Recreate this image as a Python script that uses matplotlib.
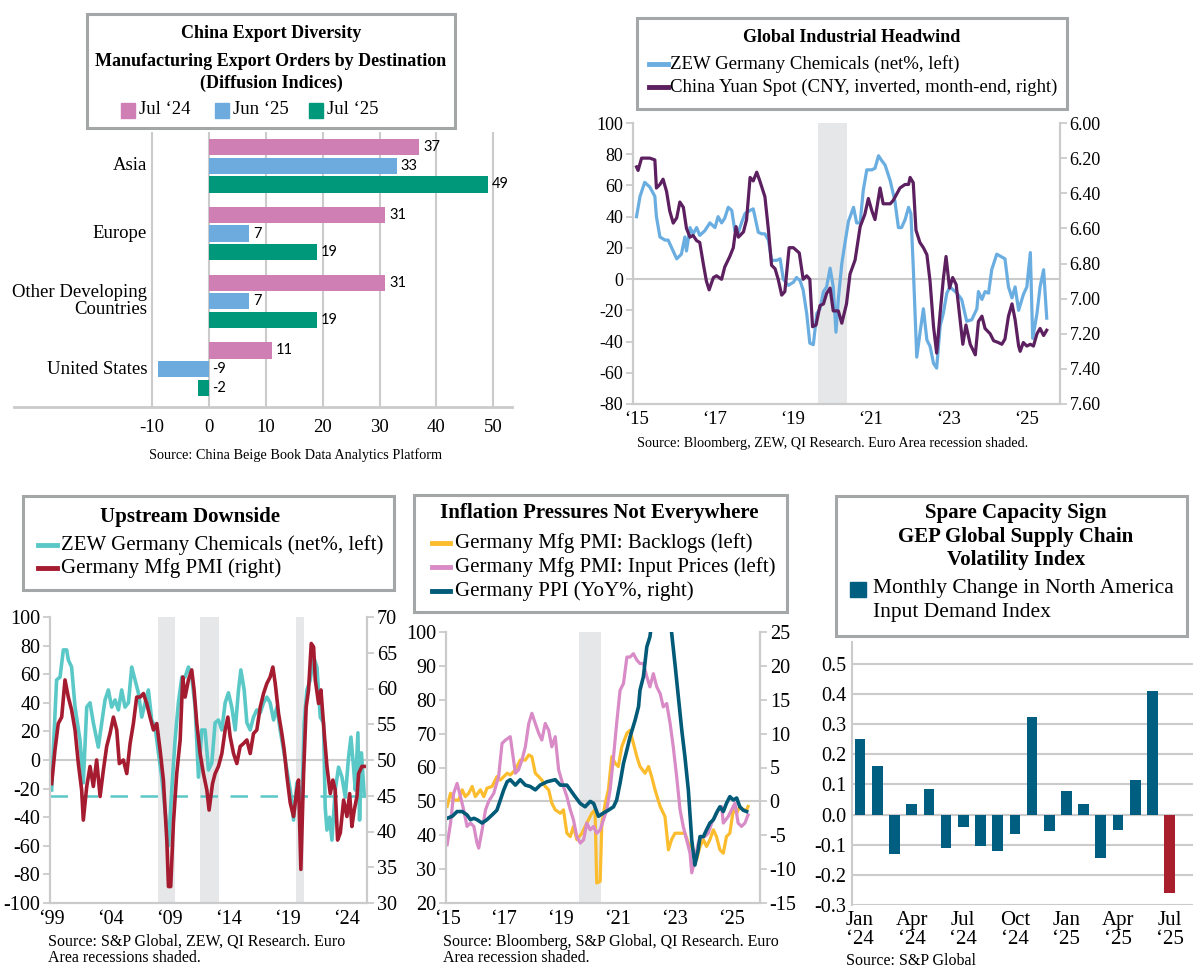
import matplotlib
matplotlib.use('Agg')
import matplotlib.pyplot as plt
from matplotlib.patches import Rectangle
from matplotlib.lines import Line2D
import numpy as np

# ---- data ----
regions = ['Asia', 'Europe', 'Other Developing\nCountries', 'United States']
orders_jul24 = [37, 31, 31, 11]
orders_jun25 = [33, 7, 7, -9]
orders_jul25 = [49, 19, 19, -2]

# ZEW Germany chemicals (net%), 2015-2025 (decimal year, value)
zew_recent = [
    (2015.00, 40), (2015.09, 53), (2015.21, 62), (2015.34, 59), (2015.47, 53), (2015.51, 40),
    (2015.60, 27), (2015.73, 25), (2015.81, 25), (2016.03, 13), (2016.15, 16), (2016.24, 27),
    (2016.28, 18), (2016.37, 33), (2016.45, 29), (2016.54, 33), (2016.62, 28), (2016.75, 31),
    (2016.88, 36), (2017.01, 33), (2017.09, 40), (2017.18, 36), (2017.26, 39), (2017.35, 46),
    (2017.44, 44), (2017.52, 31), (2017.61, 30), (2017.69, 36), (2017.78, 42), (2017.91, 44),
    (2017.99, 45), (2018.12, 30), (2018.21, 29), (2018.29, 29), (2018.38, 25), (2018.46, 12),
    (2018.59, 12), (2018.68, 13), (2018.76, 0), (2018.89, -4), (2019.02, -2), (2019.10, 1),
    (2019.19, -1), (2019.27, -7), (2019.36, -22), (2019.44, -41), (2019.53, -42), (2019.62, -22),
    (2019.70, -19), (2019.79, -8), (2019.87, -5), (2019.96, 7), (2020.04, -5), (2020.11, -34),
    (2020.17, -13), (2020.26, 10), (2020.34, 23), (2020.43, 37), (2020.56, 46), (2020.64, 36),
    (2020.73, 36), (2020.81, 57), (2020.90, 70), (2021.03, 70), (2021.11, 71), (2021.20, 79),
    (2021.28, 76), (2021.37, 73), (2021.50, 63), (2021.62, 50), (2021.71, 33), (2021.79, 33),
    (2021.88, 38), (2021.97, 46), (2022.03, 42), (2022.09, 8), (2022.18, -50), (2022.26, -35),
    (2022.35, -19), (2022.44, -39), (2022.52, -43), (2022.61, -54), (2022.69, -57), (2022.78, -30),
    (2022.86, -22), (2022.95, -9), (2023.03, -5), (2023.12, -7), (2023.21, -9), (2023.33, -13),
    (2023.46, -27), (2023.59, -26), (2023.72, -19), (2023.76, -8), (2023.85, -13), (2023.93, -8),
    (2024.02, -9), (2024.10, 6), (2024.23, 16), (2024.44, 13), (2024.53, -5), (2024.62, -12),
    (2024.70, -5), (2024.79, -20), (2024.91, -10), (2025.00, -5), (2025.09, 17), (2025.15, -38),
    (2025.26, -22), (2025.34, -5), (2025.43, 6), (2025.51, -25),
]

# CNY spot, month-end
cny = [
    (2015.00, 6.25), (2015.04, 6.27), (2015.13, 6.20), (2015.26, 6.20), (2015.34, 6.20), (2015.47, 6.21),
    (2015.51, 6.37), (2015.60, 6.35), (2015.68, 6.32), (2015.77, 6.39), (2015.85, 6.50), (2015.94, 6.57),
    (2016.03, 6.54), (2016.11, 6.45), (2016.20, 6.48), (2016.28, 6.60), (2016.37, 6.65), (2016.45, 6.64),
    (2016.54, 6.67), (2016.62, 6.68), (2016.71, 6.80), (2016.79, 6.90), (2016.86, 6.95), (2016.97, 6.88),
    (2017.05, 6.87), (2017.18, 6.89), (2017.26, 6.82), (2017.39, 6.76), (2017.48, 6.71), (2017.55, 6.59),
    (2017.61, 6.65), (2017.74, 6.62), (2017.82, 6.55), (2017.91, 6.31), (2017.99, 6.33), (2018.08, 6.28),
    (2018.16, 6.33), (2018.29, 6.42), (2018.38, 6.61), (2018.46, 6.81), (2018.55, 6.83), (2018.63, 6.89),
    (2018.72, 6.98), (2018.80, 6.96), (2018.91, 6.71), (2019.02, 6.71), (2019.17, 6.74), (2019.27, 6.89),
    (2019.36, 6.87), (2019.44, 6.89), (2019.51, 7.16), (2019.60, 7.15), (2019.70, 7.04), (2019.79, 7.03),
    (2019.87, 6.97), (2019.96, 6.94), (2020.04, 7.07), (2020.17, 7.07), (2020.26, 7.14), (2020.38, 7.03),
    (2020.47, 6.86), (2020.60, 6.78), (2020.73, 6.59), (2020.85, 6.52), (2020.94, 6.43), (2021.03, 6.50),
    (2021.11, 6.55), (2021.24, 6.37), (2021.32, 6.46), (2021.50, 6.46), (2021.58, 6.44), (2021.75, 6.37),
    (2021.88, 6.35), (2021.97, 6.35), (2022.01, 6.31), (2022.09, 6.34), (2022.16, 6.61), (2022.26, 6.68),
    (2022.35, 6.71), (2022.44, 6.75), (2022.52, 6.90), (2022.61, 7.16), (2022.69, 7.31), (2022.78, 7.08),
    (2022.86, 6.89), (2022.93, 6.76), (2023.02, 6.94), (2023.10, 6.88), (2023.19, 6.92), (2023.29, 7.12),
    (2023.36, 7.26), (2023.44, 7.15), (2023.55, 7.26), (2023.68, 7.32), (2023.76, 7.13), (2023.85, 7.10),
    (2023.93, 7.17), (2024.06, 7.20), (2024.15, 7.24), (2024.27, 7.25), (2024.36, 7.26), (2024.44, 7.23),
    (2024.53, 7.10), (2024.62, 7.03), (2024.70, 7.12), (2024.79, 7.27), (2024.83, 7.30), (2024.91, 7.25),
    (2025.00, 7.27), (2025.09, 7.26), (2025.17, 7.27), (2025.26, 7.20), (2025.34, 7.17), (2025.43, 7.21),
    (2025.51, 7.18),
]

# ZEW Germany chemicals, 1999-2025
zew_long = [
    (1999.00, -21), (1999.14, 7), (1999.42, 56), (1999.71, 58), (1999.99, 77), (2000.27, 77),
    (2000.41, 70), (2000.69, 65), (2000.98, 37), (2001.40, 14), (2001.68, -16), (2001.97, 37),
    (2002.25, 40), (2002.53, 26), (2002.95, 9), (2003.24, 26), (2003.52, 42), (2003.80, 49),
    (2004.08, 37), (2004.37, 42), (2004.65, 35), (2004.93, 49), (2005.21, 37), (2005.50, 40),
    (2005.78, 65), (2006.06, 56), (2006.34, 47), (2006.63, 30), (2006.91, 40), (2007.19, 49),
    (2007.47, 28), (2007.76, 23), (2008.04, 5), (2008.32, -12), (2008.60, -35), (2008.89, -60),
    (2009.17, -21), (2009.45, 14), (2009.73, 40), (2010.02, 58), (2010.30, 58), (2010.58, 65),
    (2010.86, 58), (2011.15, 37), (2011.43, -12), (2011.71, 21), (2011.99, 21), (2012.28, -7),
    (2012.56, -2), (2012.84, 26), (2013.12, 28), (2013.41, 21), (2013.69, 40), (2013.97, 47),
    (2014.25, 37), (2014.54, 21), (2014.82, 49), (2015.02, 63), (2015.30, 49), (2015.53, 26),
    (2015.81, 21), (2016.09, 30), (2016.37, 35), (2016.66, 33), (2016.94, 40), (2017.22, 44),
    (2017.50, 40), (2017.79, 28), (2018.07, 37), (2018.35, 21), (2018.63, 7), (2018.92, -7),
    (2019.20, -21), (2019.48, -42), (2019.76, -16), (2020.05, -21), (2020.19, -30), (2020.38, 26),
    (2020.61, 49), (2020.89, 56), (2021.18, 72), (2021.46, 65), (2021.74, 30), (2022.02, 26),
    (2022.16, -33), (2022.31, -49), (2022.53, -40), (2022.73, -56), (2023.01, -21), (2023.29, -5),
    (2023.58, -12), (2023.86, -26), (2024.14, 2), (2024.34, 16), (2024.56, -5), (2024.71, -21),
    (2024.93, 19), (2025.07, -42), (2025.23, 5), (2025.47, -25),
]

# Germany manufacturing PMI
pmi = [
    (1999.00, 46.7), (1999.28, 51.4), (1999.56, 55.1), (1999.85, 56.0), (2000.13, 61.2), (2000.41, 58.8),
    (2000.69, 57.0), (2000.98, 54.2), (2001.26, 49.5), (2001.54, 45.8), (2001.68, 41.6), (2001.97, 46.3),
    (2002.25, 49.1), (2002.53, 46.3), (2002.81, 50.0), (2003.10, 44.9), (2003.38, 48.6), (2003.66, 51.9),
    (2003.94, 53.7), (2004.23, 56.0), (2004.51, 54.2), (2004.73, 49.5), (2005.07, 50.0), (2005.36, 48.1),
    (2005.64, 52.3), (2005.92, 55.1), (2006.20, 58.8), (2006.49, 58.8), (2006.77, 59.3), (2007.05, 57.9),
    (2007.33, 56.0), (2007.62, 54.2), (2007.90, 55.1), (2008.18, 51.4), (2008.46, 47.2), (2008.75, 38.8),
    (2008.89, 32.3), (2009.08, 32.3), (2009.31, 41.2), (2009.59, 48.1), (2009.88, 52.8), (2010.10, 61.6),
    (2010.30, 58.8), (2010.58, 61.2), (2010.86, 62.6), (2011.06, 59.8), (2011.29, 55.1), (2011.57, 50.9),
    (2011.85, 48.1), (2012.14, 45.8), (2012.33, 43.0), (2012.62, 46.7), (2012.84, 48.1), (2013.12, 49.1),
    (2013.41, 50.9), (2013.69, 54.2), (2013.92, 56.0), (2014.11, 53.3), (2014.40, 50.9), (2014.68, 49.5),
    (2014.96, 51.9), (2015.24, 52.3), (2015.53, 52.8), (2015.81, 50.9), (2016.09, 53.7), (2016.37, 54.2),
    (2016.66, 57.4), (2016.94, 59.3), (2017.22, 60.7), (2017.50, 61.6), (2017.73, 63.0), (2017.93, 60.7),
    (2018.21, 56.5), (2018.49, 53.7), (2018.69, 51.4), (2018.92, 47.7), (2019.20, 44.0), (2019.48, 42.1),
    (2019.76, 45.8), (2019.90, 47.2), (2020.10, 34.7), (2020.33, 48.1), (2020.55, 57.4), (2020.75, 59.8),
    (2020.98, 66.3), (2021.18, 65.8), (2021.32, 61.2), (2021.60, 57.9), (2021.80, 59.8), (2022.08, 53.7),
    (2022.31, 49.1), (2022.59, 45.3), (2022.81, 47.2), (2023.01, 45.8), (2023.21, 38.8), (2023.44, 39.8),
    (2023.72, 44.4), (2024.00, 42.1), (2024.23, 45.3), (2024.42, 40.7), (2024.62, 43.0), (2024.85, 44.9),
    (2024.99, 48.1), (2025.27, 49.1), (2025.47, 49.1),
]

# Germany mfg PMI backlogs
backlogs = [
    (2015.00, 48.5), (2015.12, 52.4), (2015.23, 50.4), (2015.41, 50.4), (2015.53, 53.4), (2015.64, 51.4),
    (2015.76, 52.4), (2015.88, 54.4), (2015.99, 51.4), (2016.17, 53.4), (2016.29, 51.4), (2016.40, 53.9),
    (2016.58, 54.4), (2016.75, 57.3), (2016.87, 56.3), (2016.99, 57.3), (2017.11, 58.3), (2017.22, 57.8),
    (2017.40, 59.3), (2017.57, 62.2), (2017.75, 62.2), (2017.87, 63.7), (2017.98, 63.2), (2018.10, 58.3),
    (2018.22, 57.3), (2018.33, 56.3), (2018.45, 54.4), (2018.57, 53.4), (2018.68, 49.5), (2018.80, 47.5),
    (2018.98, 46.5), (2019.09, 47.5), (2019.21, 40.6), (2019.33, 39.6), (2019.44, 42.6), (2019.56, 38.7),
    (2019.74, 40.6), (2019.91, 43.6), (2020.09, 46.5), (2020.20, 47.5), (2020.26, 25.9), (2020.38, 26.4),
    (2020.44, 43.6), (2020.56, 49.5), (2020.67, 53.4), (2020.79, 63.2), (2020.91, 61.2), (2021.02, 60.3),
    (2021.14, 66.1), (2021.32, 70.1), (2021.43, 71.0), (2021.55, 67.1), (2021.67, 63.2), (2021.78, 60.3),
    (2021.96, 58.3), (2022.08, 60.3), (2022.19, 57.3), (2022.31, 53.4), (2022.49, 48.5), (2022.66, 45.5),
    (2022.78, 35.7), (2022.89, 38.7), (2023.01, 40.6), (2023.19, 40.6), (2023.36, 40.6), (2023.48, 37.7),
    (2023.65, 35.7), (2023.77, 32.8), (2023.89, 36.7), (2024.01, 38.7), (2024.12, 36.7), (2024.24, 38.7),
    (2024.36, 41.6), (2024.47, 39.6), (2024.59, 35.7), (2024.71, 34.7), (2024.82, 39.6), (2024.94, 40.6),
    (2025.06, 47.5), (2025.18, 46.5), (2025.29, 48.5), (2025.41, 47.5), (2025.53, 47.5), (2025.58, 48.5),
]

# Germany mfg PMI input prices
input_prices = [
    (2015.00, 37.2), (2015.12, 43.6), (2015.23, 52.4), (2015.35, 55.3), (2015.47, 51.4), (2015.58, 47.5),
    (2015.70, 42.6), (2015.82, 43.6), (2015.94, 42.6), (2016.05, 37.7), (2016.11, 36.2), (2016.23, 41.6),
    (2016.35, 47.5), (2016.46, 50.0), (2016.64, 52.4), (2016.81, 57.3), (2016.93, 67.1), (2017.05, 68.1),
    (2017.22, 69.1), (2017.40, 58.3), (2017.51, 59.3), (2017.63, 62.2), (2017.75, 66.1), (2017.87, 73.0),
    (2017.98, 76.0), (2018.10, 73.0), (2018.22, 70.1), (2018.33, 68.1), (2018.45, 73.0), (2018.57, 71.0),
    (2018.68, 66.1), (2018.80, 69.1), (2018.92, 59.3), (2019.09, 54.4), (2019.21, 51.4), (2019.33, 47.5),
    (2019.44, 44.6), (2019.56, 39.6), (2019.68, 37.7), (2019.80, 38.7), (2019.91, 43.6), (2020.03, 41.6),
    (2020.15, 42.6), (2020.26, 40.6), (2020.38, 41.6), (2020.50, 44.6), (2020.61, 47.5), (2020.73, 53.4),
    (2020.85, 63.2), (2020.96, 73.0), (2021.08, 82.8), (2021.20, 84.8), (2021.32, 92.6), (2021.43, 92.6),
    (2021.55, 93.6), (2021.67, 91.7), (2021.78, 90.7), (2021.90, 90.7), (2022.02, 86.8), (2022.13, 83.8),
    (2022.25, 87.7), (2022.37, 83.8), (2022.49, 81.8), (2022.60, 77.9), (2022.72, 78.9), (2022.84, 73.0),
    (2022.95, 66.1), (2023.07, 57.3), (2023.19, 47.5), (2023.30, 42.6), (2023.42, 38.7), (2023.54, 34.7),
    (2023.60, 28.9), (2023.71, 32.8), (2023.83, 37.7), (2023.95, 39.6), (2024.06, 39.6), (2024.18, 40.6),
    (2024.30, 43.6), (2024.42, 45.5), (2024.53, 47.5), (2024.65, 48.5), (2024.71, 43.6), (2024.88, 45.5),
    (2025.00, 47.5), (2025.12, 49.5), (2025.23, 43.6), (2025.35, 42.6), (2025.47, 43.6), (2025.58, 46.0),
]

# Germany PPI YoY%
ppi = [
    (2015.00, -2.5), (2015.18, -2.2), (2015.35, -1.5), (2015.53, -1.5), (2015.70, -2.0), (2015.82, -2.7),
    (2015.94, -2.5), (2016.05, -2.7), (2016.23, -3.2), (2016.40, -2.7), (2016.58, -2.0), (2016.75, -1.3),
    (2016.87, 0.2), (2016.99, 1.7), (2017.11, 2.9), (2017.22, 3.2), (2017.40, 2.4), (2017.57, 3.2),
    (2017.75, 2.4), (2017.92, 2.2), (2018.10, 1.7), (2018.27, 2.4), (2018.51, 2.9), (2018.80, 3.2),
    (2018.98, 2.4), (2019.21, 2.4), (2019.33, 1.7), (2019.50, 0.7), (2019.68, -0.3), (2019.85, -0.8),
    (2020.03, 0.0), (2020.15, -0.3), (2020.32, -2.2), (2020.50, -1.7), (2020.67, -1.3), (2020.85, -0.8),
    (2020.96, 0.2), (2021.08, 2.7), (2021.20, 5.6), (2021.32, 7.6), (2021.43, 9.5), (2021.61, 12.0),
    (2021.73, 14.0), (2021.78, 16.4), (2021.90, 18.4), (2022.02, 22.8), (2022.13, 24.3), (2022.30, 30.0),
    (2022.50, 34.0), (2022.65, 45.0), (2022.75, 38.0), (2022.89, 25.0), (2023.01, 20.3), (2023.13, 15.4),
    (2023.25, 10.5), (2023.36, 6.6), (2023.48, 1.7), (2023.60, -5.7), (2023.71, -9.4), (2023.83, -7.1),
    (2023.89, -5.2), (2024.01, -5.2), (2024.12, -4.2), (2024.24, -3.2), (2024.36, -2.7), (2024.47, -1.7),
    (2024.59, -0.8), (2024.71, -1.5), (2024.82, -0.3), (2024.94, 0.7), (2025.06, 0.2), (2025.18, 0.5),
    (2025.29, -0.8), (2025.41, -1.3), (2025.53, -1.5),
]

# GEP North America input demand, monthly change
gep_months = ['Jan\n\u201824', 'Feb', 'Mar', 'Apr\n\u201824', 'May', 'Jun', 'Jul\n\u201824', 'Aug', 'Sep',
              'Oct\n\u201824', 'Nov', 'Dec', 'Jan\n\u201825', 'Feb', 'Mar', 'Apr\n\u201825', 'May', 'Jun',
              'Jul\n\u201825']
gep_change = [0.25, 0.16, -0.13, 0.035, 0.085, -0.11, -0.04, -0.105, -0.12, -0.065, 0.325, -0.055,
              0.08, 0.035, -0.145, -0.05, 0.115, 0.41, -0.26]

recessions_long = [(2008.0, 2009.45), (2011.55, 2013.2), (2019.65, 2020.4)]
recession_recent = (2019.65, 2020.4)

# ---- style ----
plt.rcParams['font.family'] = ['Liberation Serif', 'DejaVu Serif']
plt.rcParams['axes.unicode_minus'] = False
GRID = '#CBCBCB'
SHADE = '#E6E7E8'
BOXC = '#A4A7A7'

W, H = 1200, 976
fig = plt.figure(figsize=(12, 9.76), dpi=100)


def px_axes(l, t, r, b):
    return fig.add_axes([l / W, 1 - b / H, (r - l) / W, (b - t) / H])


def box(l, t, r, b):
    fig.patches.append(Rectangle((l / W, 1 - b / H), (r - l) / W, (b - t) / H,
                                 transform=fig.transFigure, fill=False,
                                 edgecolor=BOXC, linewidth=2.2))


def ftext(x, y, s, **kw):
    kw.setdefault('va', 'center')
    fig.text(x / W, 1 - y / H, s, **kw)


def legend_line(x1, x2, y, color, label, tx, size=13.5):
    fig.add_artist(Line2D([x1 / W, x2 / W], [1 - y / H, 1 - y / H], color=color,
                          linewidth=3.5, transform=fig.transFigure))
    ftext(tx, y, label, fontsize=size, ha='left')


def style_axes(ax, ysize=13, xsize=13.5):
    ax.spines['top'].set_visible(False)
    for s in ['left', 'right', 'bottom']:
        ax.spines[s].set_color(GRID)
        ax.spines[s].set_linewidth(1.5)
    ax.tick_params(axis='y', length=5, width=1.3, color=GRID, labelsize=ysize, pad=2)
    ax.tick_params(axis='x', length=0, labelsize=xsize, pad=5)


def unzip(pts):
    return [p[0] for p in pts], [p[1] for p in pts]


yr_labels = lambda yrs: ['\u2018%02d' % (y % 100) for y in yrs]

# ---- panel 1: export orders ----
ax1 = px_axes(14, 132, 512, 407)
ypos = np.arange(len(regions))
bh = 0.24
off = 0.275
c_pink, c_blue, c_green = '#D07FB5', '#6DAADD', '#00987A'
ax1.barh(ypos - off, orders_jul24, height=bh, color=c_pink)
ax1.barh(ypos, orders_jun25, height=bh, color=c_blue)
ax1.barh(ypos + off, orders_jul25, height=bh, color=c_green)
for series, dy in [(orders_jul24, -off), (orders_jun25, 0), (orders_jul25, off)]:
    for i, v in enumerate(series):
        x = v + 0.7 if v > 0 else 0.6
        ax1.text(x, i + dy, str(v), va='center', ha='left', fontsize=10.5, family=['Lato', 'DejaVu Sans'])
for i, name in enumerate(regions):
    ax1.text(-10.9, i, name, ha='right', va='center', fontsize=13.5, linespacing=1.0)
ax1.set_xlim(-34.3, 53.3)
ax1.set_ylim(3.56, -0.50)
ax1.set_xticks(range(-10, 51, 10))
ax1.set_yticks([])
ax1.grid(axis='x', color=GRID, linewidth=1.5)
ax1.set_axisbelow(True)
for s in ['top', 'left', 'right']:
    ax1.spines[s].set_visible(False)
ax1.spines['bottom'].set_color(GRID)
ax1.spines['bottom'].set_linewidth(2)
ax1.tick_params(axis='x', length=0, labelsize=13.5, pad=9)

box(87, 14, 455, 128)
ftext(271, 34, 'China Export Diversity', fontsize=13, weight='bold', ha='center')
ftext(271, 61, 'Manufacturing Export Orders by Destination', fontsize=13, weight='bold', ha='center')
ftext(271, 83, '(Diffusion Indices)', fontsize=13, weight='bold', ha='center')
for sx, col, lab in [(121, c_pink, 'Jul \u201824'), (215, c_blue, 'Jun \u201825'), (309, c_green, 'Jul \u201825')]:
    fig.patches.append(Rectangle((sx / W, 1 - 118 / H), 14 / W, 15 / H, transform=fig.transFigure,
                                 color=col))
    ftext(sx + 18, 110, lab, fontsize=13.5, ha='left')
ftext(296, 455, 'Source: China Beige Book Data Analytics Platform', fontsize=10.3, ha='center')

# ---- panel 2: global industrial headwind ----
ax2 = px_axes(633, 123, 1060, 404)
style_axes(ax2)
ax2.axvspan(*recession_recent, color=SHADE, linewidth=0)
ax2.axhline(0, color=GRID, linewidth=1.5)
t, v = unzip(zew_recent)
ax2.plot(t, v, color='#6AADE0', linewidth=2.3)
ax2.set_xlim(2014.91, 2025.85)
ax2.set_ylim(-80, 100)
ax2.set_yticks(range(-80, 101, 20))
ax2.set_xticks(range(2015, 2026, 2))
ax2.set_xticklabels(yr_labels(range(2015, 2026, 2)))
ax2r = ax2.twinx()
style_axes(ax2r)
t, v = unzip(cny)
ax2r.plot(t, v, color='#5C1F5F', linewidth=2.3)
ax2r.set_ylim(7.60, 6.00)
ax2r.set_yticks(np.arange(6.0, 7.61, 0.2))
ax2r.set_yticklabels(['%.2f' % y for y in np.arange(6.0, 7.61, 0.2)])
ax2r.set_xlim(2014.91, 2025.85)

box(637, 18, 1067, 109)
ftext(852, 38, 'Global Industrial Headwind', fontsize=13, weight='bold', ha='center')
legend_line(649, 668, 64, '#6AADE0', 'ZEW Germany Chemicals (net%, left)', 670)
legend_line(649, 668, 87, '#5C1F5F', 'China Yuan Spot (CNY, inverted, month-end, right)', 670)
ftext(833, 443, 'Source: Bloomberg, ZEW, QI Research. Euro Area recession shaded.', fontsize=10.2, ha='center')

# ---- panel 3: upstream downside ----
ax3 = px_axes(50, 617, 367, 903)
style_axes(ax3, ysize=14.5, xsize=14.5)
for a, b in recessions_long:
    ax3.axvspan(a, b, color=SHADE, linewidth=0)
ax3.axhline(0, color=GRID, linewidth=1.5)
ax3.axhline(-25, color='#5BC8C8', linewidth=1.8, dashes=(7, 5))
t, v = unzip(zew_long)
ax3.plot(t, v, color='#5BC8C8', linewidth=2.6)
ax3.set_xlim(1998.86, 2025.7)
ax3.set_ylim(-100, 100)
ax3.set_yticks(range(-100, 101, 20))
ax3.set_xticks(range(1999, 2025, 5))
ax3.set_xticklabels(yr_labels(range(1999, 2025, 5)))
ax3r = ax3.twinx()
style_axes(ax3r, ysize=14.5, xsize=14.5)
t, v = unzip(pmi)
ax3r.plot(t, v, color='#A51C30', linewidth=2.6)
ax3r.set_ylim(30, 70)
ax3r.set_yticks(range(30, 71, 5))
ax3r.set_xlim(1998.86, 2025.7)

box(23, 496, 394, 590)
ftext(190, 517, 'Upstream Downside', fontsize=15, weight='bold', ha='center')
legend_line(38, 57, 545, '#5BC8C8', 'ZEW Germany Chemicals (net%, left)', 61, 15)
legend_line(38, 57, 568, '#A51C30', 'Germany Mfg PMI (right)', 61, 15)
ftext(48, 942, 'Source: S&P Global, ZEW, QI Research. Euro', fontsize=11.5, ha='left')
ftext(48, 958, 'Area recessions shaded.', fontsize=11.5, ha='left')

# ---- panel 4: inflation pressures ----
ax4 = px_axes(446, 632, 760, 903)
style_axes(ax4, ysize=14.5, xsize=14.5)
ax4.axvspan(*recession_recent, color=SHADE, linewidth=0)
ax4.axhline(50, color=GRID, linewidth=1.5)
t, v = unzip(backlogs)
ax4.plot(t, v, color='#FBBC2E', linewidth=2.3)
t, v = unzip(input_prices)
ax4.plot(t, v, color='#D88BC6', linewidth=2.3)
ax4.set_xlim(2014.96, 2026.0)
ax4.set_ylim(20, 100)
ax4.set_yticks(range(20, 101, 10))
ax4.set_xticks(range(2015, 2026, 2))
ax4.set_xticklabels(yr_labels(range(2015, 2026, 2)))
ax4r = ax4.twinx()
style_axes(ax4r, ysize=14.5, xsize=14.5)
t, v = unzip(ppi)
ax4r.plot(t, v, color='#005A78', linewidth=2.6)
ax4r.set_ylim(-15, 25)
ax4r.set_yticks(range(-15, 26, 5))
ax4r.set_xlim(2014.96, 2026.0)

box(414, 495, 787, 612)
ftext(599, 513, 'Inflation Pressures Not Everywhere', fontsize=15, weight='bold', ha='center')
legend_line(432, 450, 543, '#FBBC2E', 'Germany Mfg PMI: Backlogs (left)', 455, 15)
legend_line(432, 450, 567, '#D88BC6', 'Germany Mfg PMI: Input Prices (left)', 455, 15)
legend_line(432, 450, 591, '#005A78', 'Germany PPI (YoY%, right)', 455, 15)
ftext(443, 942, 'Source: Bloomberg, S&P Global, QI Research. Euro', fontsize=11.5, ha='left')
ftext(443, 958, 'Area recession shaded.', fontsize=11.5, ha='left')

# ---- panel 5: GEP input demand ----
ax5 = px_axes(852, 642, 1193, 905)
idx = np.arange(len(gep_change))
colors = ['#005F80'] * (len(gep_change) - 1) + ['#A91E2D']
ax5.bar(idx, gep_change, width=0.62, color=colors, zorder=3)
ax5.set_xlim(-0.47, 19.36)
ax5.set_ylim(-0.3, 0.573)
ax5.set_yticks(np.arange(-0.3, 0.51, 0.1))
ax5.set_yticklabels(['%.1f' % y for y in np.arange(-0.3, 0.51, 0.1)])
ax5.grid(axis='y', color=GRID, linewidth=1.5, zorder=0)
ax5.axhline(0, color=GRID, linewidth=1.5, zorder=1)
ax5.set_xticks(idx[::3])
ax5.set_xticklabels([gep_months[i] for i in idx[::3]], linespacing=1.0)
for s in ['top', 'right', 'bottom']:
    ax5.spines[s].set_visible(False)
ax5.spines['left'].set_color(GRID)
ax5.spines['left'].set_linewidth(1.5)
ax5.tick_params(axis='y', length=0, labelsize=14.5, pad=4)
ax5.tick_params(axis='x', length=0, labelsize=15, pad=4)

box(836, 496, 1187, 636)
ftext(1016, 513, 'Spare Capacity Sign', fontsize=15, weight='bold', ha='center')
ftext(1016, 537, 'GEP Global Supply Chain', fontsize=15, weight='bold', ha='center')
ftext(1016, 560, 'Volatility Index', fontsize=15, weight='bold', ha='center')
fig.patches.append(Rectangle((850 / W, 1 - 597 / H), 16 / W, 15 / H, transform=fig.transFigure,
                             color='#005F80'))
ftext(873, 589, 'Monthly Change in North America', fontsize=15.5, ha='left')
ftext(873, 612, 'Input Demand Index', fontsize=15.5, ha='left')
ftext(846, 961, 'Source: S&P Global', fontsize=11.5, ha='left')

fig.savefig('out.png', dpi=100)
